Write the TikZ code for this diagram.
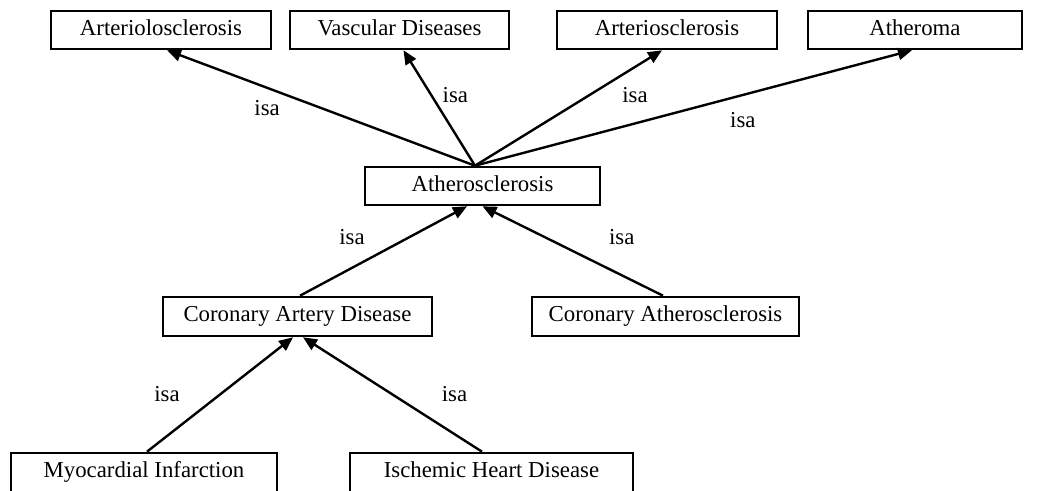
\documentclass[tikz,border=0pt]{standalone}
\usepackage{fontspec}
\setmainfont{Liberation Serif}
\usetikzlibrary{arrows.meta,positioning}

\begin{document}
\begin{tikzpicture}[
  x=0.5pt,y=-0.5pt,
  >={Triangle[length=7pt,width=6pt]},
  term/.style={draw,line width=1.3pt,inner sep=0pt,minimum height=19pt,
    text height=8pt,text depth=2.5pt,font=\fontsize{11.4}{13}\selectfont},
  isa/.style={->,line width=1.2pt},
  lab/.style={font=\fontsize{11.4}{13}\selectfont,inner sep=1pt}
]
\useasboundingbox (0,0) rectangle (1041,491);
\node[term,minimum width=110pt] (arteriolo) at (161,30) {Arteriolosclerosis};
\node[term,minimum width=109.5pt] (vasc) at (399.5,30) {Vascular Diseases};
\node[term,minimum width=110pt] (arterio) at (667,30) {Arteriosclerosis};
\node[term,minimum width=107pt] (atheroma) at (915,30) {Atheroma};
\node[term,minimum width=117.5pt] (athero) at (482.5,186) {Atherosclerosis};
\node[term,minimum width=134.5pt,minimum height=19.5pt] (cad) at (297.5,316.5) {Coronary Artery Disease};
\node[term,minimum width=133.5pt,minimum height=19.5pt] (cath) at (665.5,316.5) {Coronary Atherosclerosis};
\node[term,minimum width=133pt,minimum height=19.5pt] (mi) at (144,472.5) {Myocardial Infarction};
\node[term,minimum width=141.5pt,minimum height=19.5pt] (ihd) at (491.5,472.5) {Ischemic Heart Disease};
% upper level
\draw[isa] ([xshift=-3.75pt]athero.north) -- node[lab,pos=0.675,yshift=-10pt]{isa} ([xshift=3pt]arteriolo.south);
\draw[isa] ([xshift=-3.75pt]athero.north) -- node[lab,pos=0.61,xshift=12pt]{isa} ([xshift=2pt]vasc.south);
\draw[isa] ([xshift=-3.75pt]athero.north) -- node[lab,pos=0.61,xshift=23pt]{isa} ([xshift=-2.5pt]arterio.south);
\draw[isa] ([xshift=-3.75pt]athero.north) -- node[lab,pos=0.613,yshift=-12.7pt]{isa} ([xshift=-1.5pt]atheroma.south);
% middle level
\draw[isa] ([xshift=1.25pt]cad.north) -- node[lab,xshift=-15.75pt,yshift=7pt]{isa} ([xshift=-7.75pt]athero.south);
\draw[isa] ([xshift=-1.25pt]cath.north) -- node[lab,xshift=24.5pt,yshift=7pt]{isa} (athero.south);
% lower level
\draw[isa] ([xshift=1.5pt]mi.north) -- node[lab,xshift=-26.5pt]{isa} ([xshift=-2.25pt]cad.south);
\draw[isa] ([xshift=-4.75pt]ihd.north) -- node[lab,xshift=31pt]{isa} ([xshift=2.75pt]cad.south);
\end{tikzpicture}
\end{document}
